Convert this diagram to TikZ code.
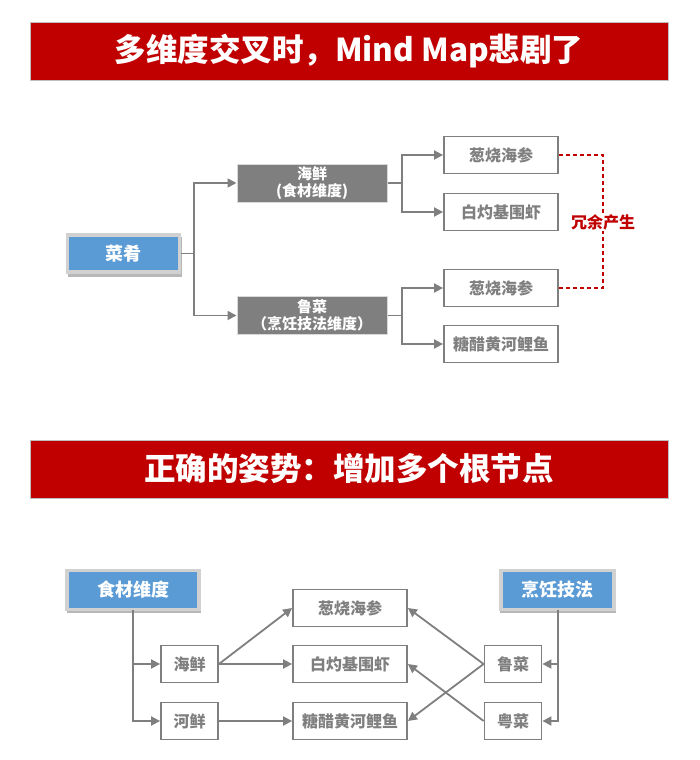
\documentclass[tikz,border=0pt]{standalone}
\usepackage{fontspec}
\setmainfont{Noto Sans CJK SC}
\usetikzlibrary{arrows.meta}
\definecolor{tred}{HTML}{C00000}
\definecolor{gline}{HTML}{7F7F7F}
\definecolor{bluef}{HTML}{5B9BD5}
\definecolor{dred}{HTML}{C00000}
\tikzset{
  titlebar/.style={fill=tred, draw=black!25, line width=0.8pt, minimum width=638pt, minimum height=58pt, text=white, font=\bfseries\fontsize{31.5}{33}\selectfont, inner sep=0pt},
  bluebox/.style={fill=bluef, draw=black!18, line width=3.5pt, text=white, font=\bfseries\fontsize{18}{20}\selectfont, inner sep=0pt},
  greybox/.style={fill=gline, draw=black!15, line width=1pt, text=white, font=\bfseries\fontsize{15}{17}\selectfont, align=center, inner sep=0pt, minimum width=150pt, minimum height=38pt},
  leaf/.style={fill=white, draw=gline, line width=1.8pt, text=gline, font=\bfseries\fontsize{16}{18}\selectfont, inner sep=0pt, minimum height=37pt},
  conn/.style={draw=gline, line width=1.8pt, -{Triangle[length=9pt,width=9pt]}},
  plain/.style={draw=gline, line width=1.8pt},
  redund/.style={draw=dred, line width=2.2pt, dash pattern=on 4pt off 3pt},
}
\begin{document}
\begin{tikzpicture}[x=1pt,y=-1pt]
\useasboundingbox (0,0) rectangle (700,760);
% titles
\node[titlebar] (t1) at (349,51) {多维度交叉时，Mind Map悲剧了};
\node[titlebar] (t2) at (349,469) {正确的姿势：增加多个根节点};

% ---------- top diagram ----------
\fill[black!28] (68,237) rectangle (182,277);
\node[bluebox, minimum width=112pt, minimum height=37pt] (root) at (123.5,253.5) {菜肴};
\node[greybox] (hx) at (312,183) {海鲜\\(食材维度)};
\node[greybox] (lc) at (312,315.5) {鲁菜\\（烹饪技法维度）};
\node[leaf, minimum width=114pt] (a1) at (501,155) {葱烧海参};
\node[leaf, minimum width=114pt] (a2) at (501,212) {白灼基围虾};
\node[leaf, minimum width=114pt] (a3) at (501,288) {葱烧海参};
\node[leaf, minimum width=114pt] (a4) at (501,344) {糖醋黄河鲤鱼};

\coordinate (j0) at (194,253.5);
\draw[plain] (root.east) -- (j0);
\draw[conn] (j0) |- (hx.west);
\draw[conn] (j0) |- (lc.west);
\coordinate (j1) at (402,183);
\coordinate (j2) at (402,315.5);
\draw[plain] (hx.east) -- (j1);
\draw[conn] (j1) |- (a1.west);
\draw[conn] (j1) |- (a2.west);
\draw[plain] (lc.east) -- (j2);
\draw[conn] (j2) |- (a3.west);
\draw[conn] (j2) |- (a4.west);

\coordinate (r1) at (603,155);
\coordinate (r2) at (603,288);
\draw[redund] (a1.east) -- (r1) -- (r2) -- (a3.east);
\node[fill=white, text=dred, font=\bfseries\fontsize{16}{18}\selectfont, inner sep=1pt] (red) at (603,222) {冗余产生};

% ---------- bottom diagram ----------
\fill[black!28] (67,573) rectangle (201,613);
\node[bluebox, minimum width=132pt, minimum height=39pt] (sc) at (133,590) {食材维度};
\fill[black!28] (500,573) rectangle (616,613);
\node[bluebox, minimum width=113pt, minimum height=39pt] (pr) at (557.5,590) {烹饪技法};

\node[leaf, minimum width=57pt] (b1) at (189.5,664) {海鲜};
\node[leaf, minimum width=57pt] (b2) at (189.5,721) {河鲜};
\node[leaf, minimum width=114pt] (c1) at (350,608) {葱烧海参};
\node[leaf, minimum width=114pt] (c2) at (350,664) {白灼基围虾};
\node[leaf, minimum width=114pt] (c3) at (350,721) {糖醋黄河鲤鱼};
\node[leaf, minimum width=57pt] (d1) at (513,664) {鲁菜};
\node[leaf, minimum width=57pt] (d2) at (513,721) {粤菜};

\coordinate (k1) at (133,609.5);
\draw[conn] (k1) |- (b1.west);
\draw[conn] (k1) |- (b2.west);
\coordinate (k2) at (558,609.5);
\draw[conn] (k2) |- (d1.east);
\draw[conn] (k2) |- (d2.east);

\draw[conn] (b1.east) -- (c1.west);
\draw[conn] (b1.east) -- (c2.west);
\draw[conn] (b2.east) -- (c3.west);
\draw[conn] (d1.west) -- (c1.east);
\draw[conn] (d1.west) -- (c3.east);
\draw[conn] (d2.west) -- (c2.east);
\end{tikzpicture}
\end{document}
